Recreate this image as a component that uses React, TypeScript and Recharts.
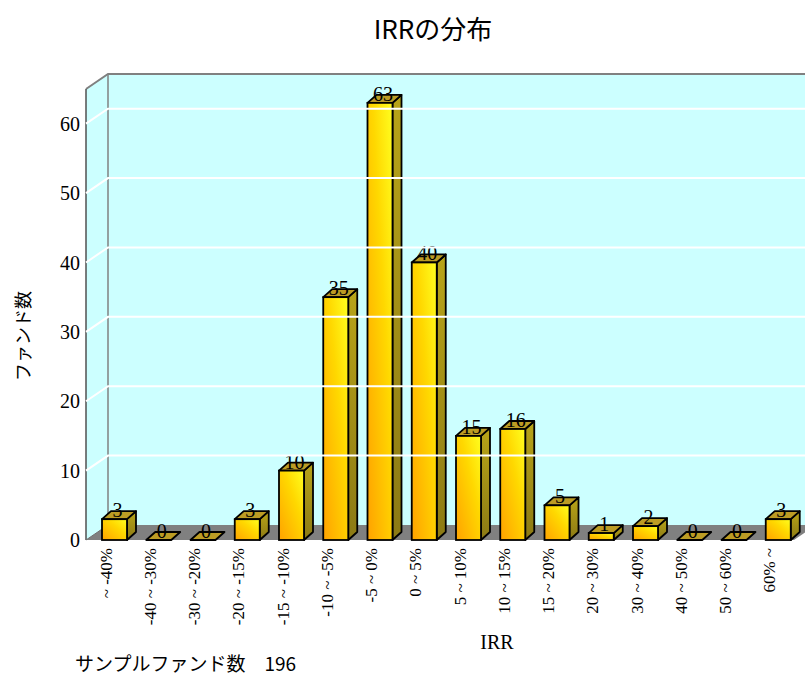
import { Bar, BarChart, ReferenceArea, ReferenceLine, XAxis, YAxis } from 'recharts';

const categories = [
  '~ -40%',
  '-40 ~ -30%',
  '-30 ~ -20%',
  '-20 ~ -15%',
  '-15 ~ -10%',
  '-10 ~ -5%',
  '-5 ~ 0%',
  '0 ~ 5%',
  '5 ~ 10%',
  '10 ~ 15%',
  '15 ~ 20%',
  '20 ~ 30%',
  '30 ~ 40%',
  '40 ~ 50%',
  '50 ~ 60%',
  '60% ~',
];
const fundCounts = [3, 0, 0, 3, 10, 35, 63, 40, 15, 16, 5, 1, 2, 0, 0, 3];
const yTicks = [0, 10, 20, 30, 40, 50, 60];
const gridValues = [10, 20, 30, 40, 50, 60];
const sampleTotal = 196;

const data = categories.map((name, i) => ({ name, count: fundCounts[i] }));

// 3D look: wall depth and bar depth
const WALL_DX = 22;
const WALL_DY = 15;
const BAR_DX = 9;
const BAR_DY = 8;
const BAR_SHIFT = 6;

const SERIF = '"Liberation Serif", "Times New Roman", serif';
const GOTHIC = '"Noto Sans CJK JP", "Noto Sans", sans-serif';

function Walls(props: any) {
  const { x, y, width, height } = props;
  const bottom = y + height;
  const right = x + width;
  return (
    <g>
      <rect x={x + WALL_DX} y={y - WALL_DY} width={width + 40} height={height} fill="#CCFFFF" />
      <polygon
        points={`${x},${y} ${x + WALL_DX},${y - WALL_DY} ${x + WALL_DX},${bottom - WALL_DY} ${x},${bottom}`}
        fill="#CCFFFF"
      />
      <polygon
        points={`${x},${bottom} ${x + WALL_DX},${bottom - WALL_DY} ${right + WALL_DX},${bottom - WALL_DY} ${right},${bottom}`}
        fill="#808080"
      />
      <line x1={x + WALL_DX} y1={y - WALL_DY} x2={x + WALL_DX} y2={bottom - WALL_DY} stroke="#808080" strokeWidth={1.5} />
      <polyline
        points={`${x},${y} ${x + WALL_DX},${y - WALL_DY} ${right + 40},${y - WALL_DY}`}
        fill="none"
        stroke="#808080"
        strokeWidth={2}
      />
      <line x1={x} y1={y} x2={x} y2={bottom} stroke="#505050" strokeWidth={1.5} />
      <line x1={x} y1={bottom} x2={x + WALL_DX} y2={bottom - WALL_DY} stroke="#707070" strokeWidth={1} />
    </g>
  );
}

function GridLine(p: any) {
  return (
    <polyline
      points={`${p.x1},${p.y1} ${p.x1 + WALL_DX},${p.y1 - WALL_DY} ${p.x2 + 40},${p.y1 - WALL_DY}`}
      fill="none"
      stroke="#ffffff"
      strokeWidth={2}
    />
  );
}

function Bar3D(props: any) {
  const { x, y, width, height, index, payload } = props;
  const fx = x + BAR_SHIFT;
  const r = fx + width;
  const top = y;
  const bottom = y + height;
  const id = `front-${index}`;
  const sid = `side-${index}`;
  const label = (
    <text
      x={fx + width / 2 + 3}
      y={top - 2}
      textAnchor="middle"
      fontFamily={SERIF}
      fontSize={20}
      fill="#000"
    >
      {payload.count}
    </text>
  );
  const topFace = (
    <polygon
      points={`${fx},${top} ${fx + BAR_DX},${top - BAR_DY} ${r + BAR_DX},${top - BAR_DY} ${r},${top}`}
      fill="#BC9C24"
      stroke="#000"
      strokeWidth={1.8}
      strokeLinejoin="round"
    />
  );
  if (height < 0.5) {
    return (
      <g>
        {topFace}
        {label}
      </g>
    );
  }
  return (
    <g>
      <defs>
        <linearGradient id={id} x1="0" y1="1" x2="1" y2="0">
          <stop offset="0%" stopColor="#FFA200" />
          <stop offset="60%" stopColor="#FFD800" />
          <stop offset="100%" stopColor="#FFFF20" />
        </linearGradient>
        <linearGradient id={sid} x1="0" y1="0" x2="0" y2="1">
          <stop offset="0%" stopColor="#B8A418" />
          <stop offset="100%" stopColor="#8C7A14" />
        </linearGradient>
      </defs>
      <polygon
        points={`${r},${top} ${r + BAR_DX},${top - BAR_DY} ${r + BAR_DX},${bottom - BAR_DY} ${r},${bottom}`}
        fill={`url(#${sid})`}
        stroke="#000"
        strokeWidth={1.8}
        strokeLinejoin="round"
      />
      {topFace}
      <rect x={fx} y={top} width={width} height={height} fill={`url(#${id})`} stroke="#000" strokeWidth={1.8} />
      {label}
    </g>
  );
}

function XTick(props: any) {
  const { x, y, payload } = props;
  const tx = x - 2;
  return (
    <text
      x={tx}
      y={y}
      transform={`rotate(-90 ${tx} ${y})`}
      textAnchor="end"
      dominantBaseline="central"
      fontFamily={SERIF}
      fontSize={17}
      fill="#000"
    >
      {payload.value}
    </text>
  );
}

export default function App() {
  return (
    <div style={{ position: 'absolute', left: 0, top: 0, width: 805, height: 675, background: '#fff' }}>
      <BarChart
        width={805}
        height={675}
        data={data}
        margin={{ top: 89, right: 11, left: 26, bottom: 35 }}
      >
        <XAxis
          dataKey="name"
          height={100}
          interval={0}
          axisLine={false}
          tickLine={false}
          tickSize={0}
          tickMargin={8}
          tick={<XTick />}
        />
        <YAxis
          width={60}
          domain={[0, 65]}
          ticks={yTicks}
          axisLine={false}
          tickLine={false}
          tickSize={0}
          tickMargin={6}
          tick={{ fontFamily: SERIF, fontSize: 20, fill: '#000' }}
        />
        <ReferenceArea y1={0} y2={65} ifOverflow="visible" shape={<Walls />} />
        {gridValues.map((v) => (
          <ReferenceLine key={v} y={v} ifOverflow="visible" shape={GridLine} />
        ))}
        <Bar dataKey="count" barSize={25} shape={<Bar3D />} isAnimationActive={false} />
      </BarChart>
      <div
        style={{
          position: 'absolute',
          left: 333,
          top: 12,
          width: 200,
          textAlign: 'center',
          fontFamily: GOTHIC,
          fontSize: 26,
          lineHeight: '32px',
          color: '#000',
        }}
      >
        IRRの分布
      </div>
      <div
        style={{
          position: 'absolute',
          left: 22 - 60,
          top: 336 - 12,
          width: 120,
          height: 24,
          lineHeight: '24px',
          textAlign: 'center',
          fontFamily: GOTHIC,
          fontSize: 18,
          color: '#000',
          transform: 'rotate(-90deg)',
        }}
      >
        ファンド数
      </div>
      <div
        style={{
          position: 'absolute',
          left: 447,
          top: 631,
          width: 100,
          textAlign: 'center',
          fontFamily: SERIF,
          fontSize: 20,
          lineHeight: '22px',
          color: '#000',
        }}
      >
        IRR
      </div>
      <div
        style={{
          position: 'absolute',
          left: 75,
          top: 650,
          fontFamily: GOTHIC,
          fontSize: 19,
          lineHeight: '26px',
          color: '#000',
          whiteSpace: 'pre',
        }}
      >
        {`サンプルファンド数　${sampleTotal}`}
      </div>
    </div>
  );
}
